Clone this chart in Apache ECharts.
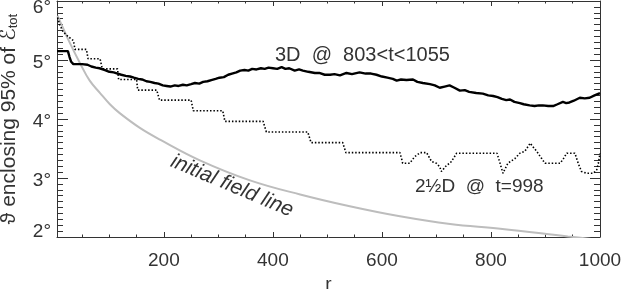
<!DOCTYPE html>
<html>
<head>
<meta charset="utf-8">
<script src="https://cdn.jsdelivr.net/npm/echarts@6/dist/echarts.min.js"></script>
<style>html,body{margin:0;padding:0;background:#fff}#c{width:623px;height:289px}</style>
</head>
<body>
<div id="c"></div>
<script>
// ---- data ----
const xMajorTicks = [200, 400, 600, 800, 1000];
const xMinorTicks = [50, 100, 150, 250, 300, 350, 450, 500, 550, 650, 700, 750, 850, 900, 950];
const yTicks = [2, 3, 4, 5, 6];

// 3D @ 803<t<1055 (solid black)
const r3D = [4,10,20,24,27,30,34,40,50,60,67,75,82,92,100,108,115,122,130,138,145,153,160,168,175,183,190,198,205,212,220,227,235,242,250,257,265,272,280,287,295,302,310,318,325,333,340,348,355,362,370,378,385,392,400,408,416,423,430,440,448,455,465,477,485,495,505,513,523,535,545,559,570,580,590,600,610,620,627,635,645,657,665,675,688,697,706,715,724,733,743,752,760,773,785,795,804,812,820,828,835,843,853,860,871,880,888,895,905,914,922,932,938,944,952,963,972,981,990,1000];
const v3D = [5.15,5.15,5.15,5.15,5.05,4.97,4.93,4.93,4.93,4.92,4.89,4.87,4.86,4.83,4.80,4.79,4.77,4.75,4.73,4.72,4.70,4.68,4.67,4.64,4.63,4.61,4.60,4.57,4.56,4.55,4.57,4.56,4.58,4.57,4.59,4.61,4.60,4.63,4.64,4.66,4.68,4.70,4.71,4.75,4.77,4.79,4.82,4.83,4.82,4.85,4.84,4.86,4.85,4.87,4.86,4.85,4.88,4.85,4.86,4.82,4.84,4.82,4.80,4.78,4.78,4.75,4.75,4.76,4.74,4.78,4.76,4.79,4.77,4.77,4.75,4.72,4.70,4.68,4.65,4.67,4.66,4.67,4.63,4.61,4.59,4.57,4.53,4.55,4.57,4.53,4.48,4.49,4.46,4.44,4.43,4.40,4.39,4.37,4.34,4.32,4.33,4.29,4.27,4.25,4.23,4.22,4.23,4.23,4.22,4.22,4.25,4.29,4.27,4.28,4.31,4.36,4.35,4.36,4.40,4.44];

// 2½D @ t=998 (dotted black)
const r2D = [5,9,15,24,34,37,58,61,83,87,115,117,150,152,187,192,250,254,308,312,382,388,464,470,528,534,633,636,638,651,660,670,682,691,700,706,709,719,725,731,737,811,816,822,831,844,853,862,872,877,884,893,899,927,933,939,954,960,966,976,988,994,997,1000];
const v2D = [5.72,5.60,5.48,5.40,5.33,5.18,5.18,5.02,5.02,4.85,4.85,4.67,4.67,4.49,4.49,4.32,4.32,4.14,4.14,3.96,3.96,3.78,3.78,3.60,3.60,3.43,3.43,3.33,3.25,3.25,3.36,3.43,3.43,3.28,3.25,3.19,3.11,3.22,3.25,3.33,3.42,3.42,3.27,3.08,3.25,3.33,3.42,3.45,3.59,3.53,3.45,3.33,3.25,3.25,3.33,3.42,3.42,3.25,3.11,3.08,3.08,3.14,3.25,3.42];

// initial field line (light gray)
const rInit = [5,26,46,64,83,101,119,156,193,266,358,450,541,633,725,817,941,1000];
const vInit = [5.75,5.32,4.95,4.65,4.44,4.25,4.10,3.85,3.65,3.30,2.96,2.72,2.52,2.35,2.22,2.14,2.01,1.95];

const zip = (a, b) => a.map((x, i) => [x, b[i]]);

const FONT = 'Liberation Sans';
const AX = '#333';

function xAxisDef(pos, ticks, len, withLabels) {
  return {
    type: 'value', position: pos, min: 4, max: 1000,
    axisLine: { show: true, lineStyle: { color: AX, width: 1 } },
    axisTick: { show: true, inside: true, length: len, customValues: ticks, lineStyle: { color: AX, width: 1 } },
    axisLabel: withLabels ? { show: true, customValues: xMajorTicks, margin: 14, fontSize: 19, color: '#333', fontFamily: FONT, formatter: v => String(v) } : { show: false },
    splitLine: { show: false },
    minorTick: { show: false }
  };
}

const chart = echarts.init(document.getElementById('c'), null, { renderer: 'canvas' });
const bottomMajor = xAxisDef('bottom', xMajorTicks, 5, true);
bottomMajor.name = 'r';
bottomMajor.nameLocation = 'middle';
bottomMajor.nameGap = 38;
bottomMajor.nameTextStyle = { fontSize: 19, color: '#333', fontFamily: FONT };
const bottomMinor = xAxisDef('bottom', xMinorTicks, 2.5, false);
bottomMinor.axisLine.show = false;
const topMajor = xAxisDef('top', xMajorTicks, 5, false);
const topMinor = xAxisDef('top', xMinorTicks, 2.5, false);
topMinor.axisLine.show = false;

function yLabel(v) {
  if (v === 6) return '{t|6°}';
  if (v === 2) return '{b|2°}';
  return '{m|' + v + '°}';
}

const option = {
  animation: false,
  textStyle: { fontFamily: FONT },
  grid: { left: 57, right: 23, top: 1, bottom: 52, containLabel: false, outerBoundsMode: 'none' },
  xAxis: [bottomMajor, bottomMinor, topMajor, topMinor],
  yAxis: [
    {
      type: 'value', position: 'left', min: 2, max: 6, interval: 1,
      axisLine: { show: true, lineStyle: { color: AX, width: 1 } },
      axisTick: { show: true, inside: true, length: 11, lineStyle: { color: AX } },
      minorTick: { show: true, splitNumber: 10, length: 6, lineStyle: { color: AX } },
      splitLine: { show: false },
      axisLabel: {
        show: true, margin: 6, formatter: yLabel,
        rich: {
          t: { fontSize: 19, color: '#333', fontFamily: FONT, padding: [14, 0, 0, 0] },
          b: { fontSize: 19, color: '#333', fontFamily: FONT, padding: [0, 0, 10, 0] },
          m: { fontSize: 19, color: '#333', fontFamily: FONT, padding: [5, 0, 0, 0] }
        }
      },
      name: '{a|ϑ enclosing 95% of }{e|ℰ}{s|tot}',
      nameLocation: 'middle', nameGap: 37, nameRotate: 90,
      nameTextStyle: {
        rich: {
          a: { fontSize: 21, color: '#333', fontFamily: FONT },
          e: { fontSize: 21, color: '#333', fontFamily: 'DejaVu Sans' },
          s: { fontSize: 13, color: '#333', fontFamily: FONT, verticalAlign: 'bottom', padding: [8, 0, 0, 0] }
        }
      }
    },
    {
      type: 'value', position: 'right', min: 2, max: 6, interval: 1,
      axisLine: { show: true, lineStyle: { color: AX, width: 1 } },
      axisTick: { show: true, inside: true, length: 10, lineStyle: { color: AX } },
      minorTick: { show: true, splitNumber: 10, length: 6, lineStyle: { color: AX } },
      splitLine: { show: false },
      axisLabel: { show: false }
    }
  ],
  series: [
    {
      type: 'line', name: 'initial field line', data: zip(rInit, vInit), smooth: 0.4,
      showSymbol: false, clip: true, lineStyle: { color: '#bdbdbd', width: 2 }, z: 2
    },
    {
      type: 'line', name: '2½D', data: zip(r2D, v2D), showSymbol: false, clip: true,
      lineStyle: { color: '#000', width: 1.6, type: [1.5, 1.9] }, z: 3
    },
    {
      type: 'line', name: '3D', data: zip(r3D, v3D), showSymbol: false, clip: true,
      lineStyle: { color: '#000', width: 2.4 }, z: 4
    }
  ],
  graphic: [
    { type: 'text', left: 275, top: 45, style: { text: '3D  @  803<t<1055', font: '20px ' + FONT, fill: '#333' } },
    { type: 'text', left: 415, top: 177, style: { text: '2½D  @  t=998', font: '19px ' + FONT, fill: '#333' } },
    { type: 'text', x: 232, y: 186, rotation: -0.40,
      style: { text: 'initial field line', font: 'italic 21px ' + FONT, fill: '#333', align: 'center', verticalAlign: 'middle' } }
  ]
};
chart.setOption(option);
</script>
</body>
</html>
